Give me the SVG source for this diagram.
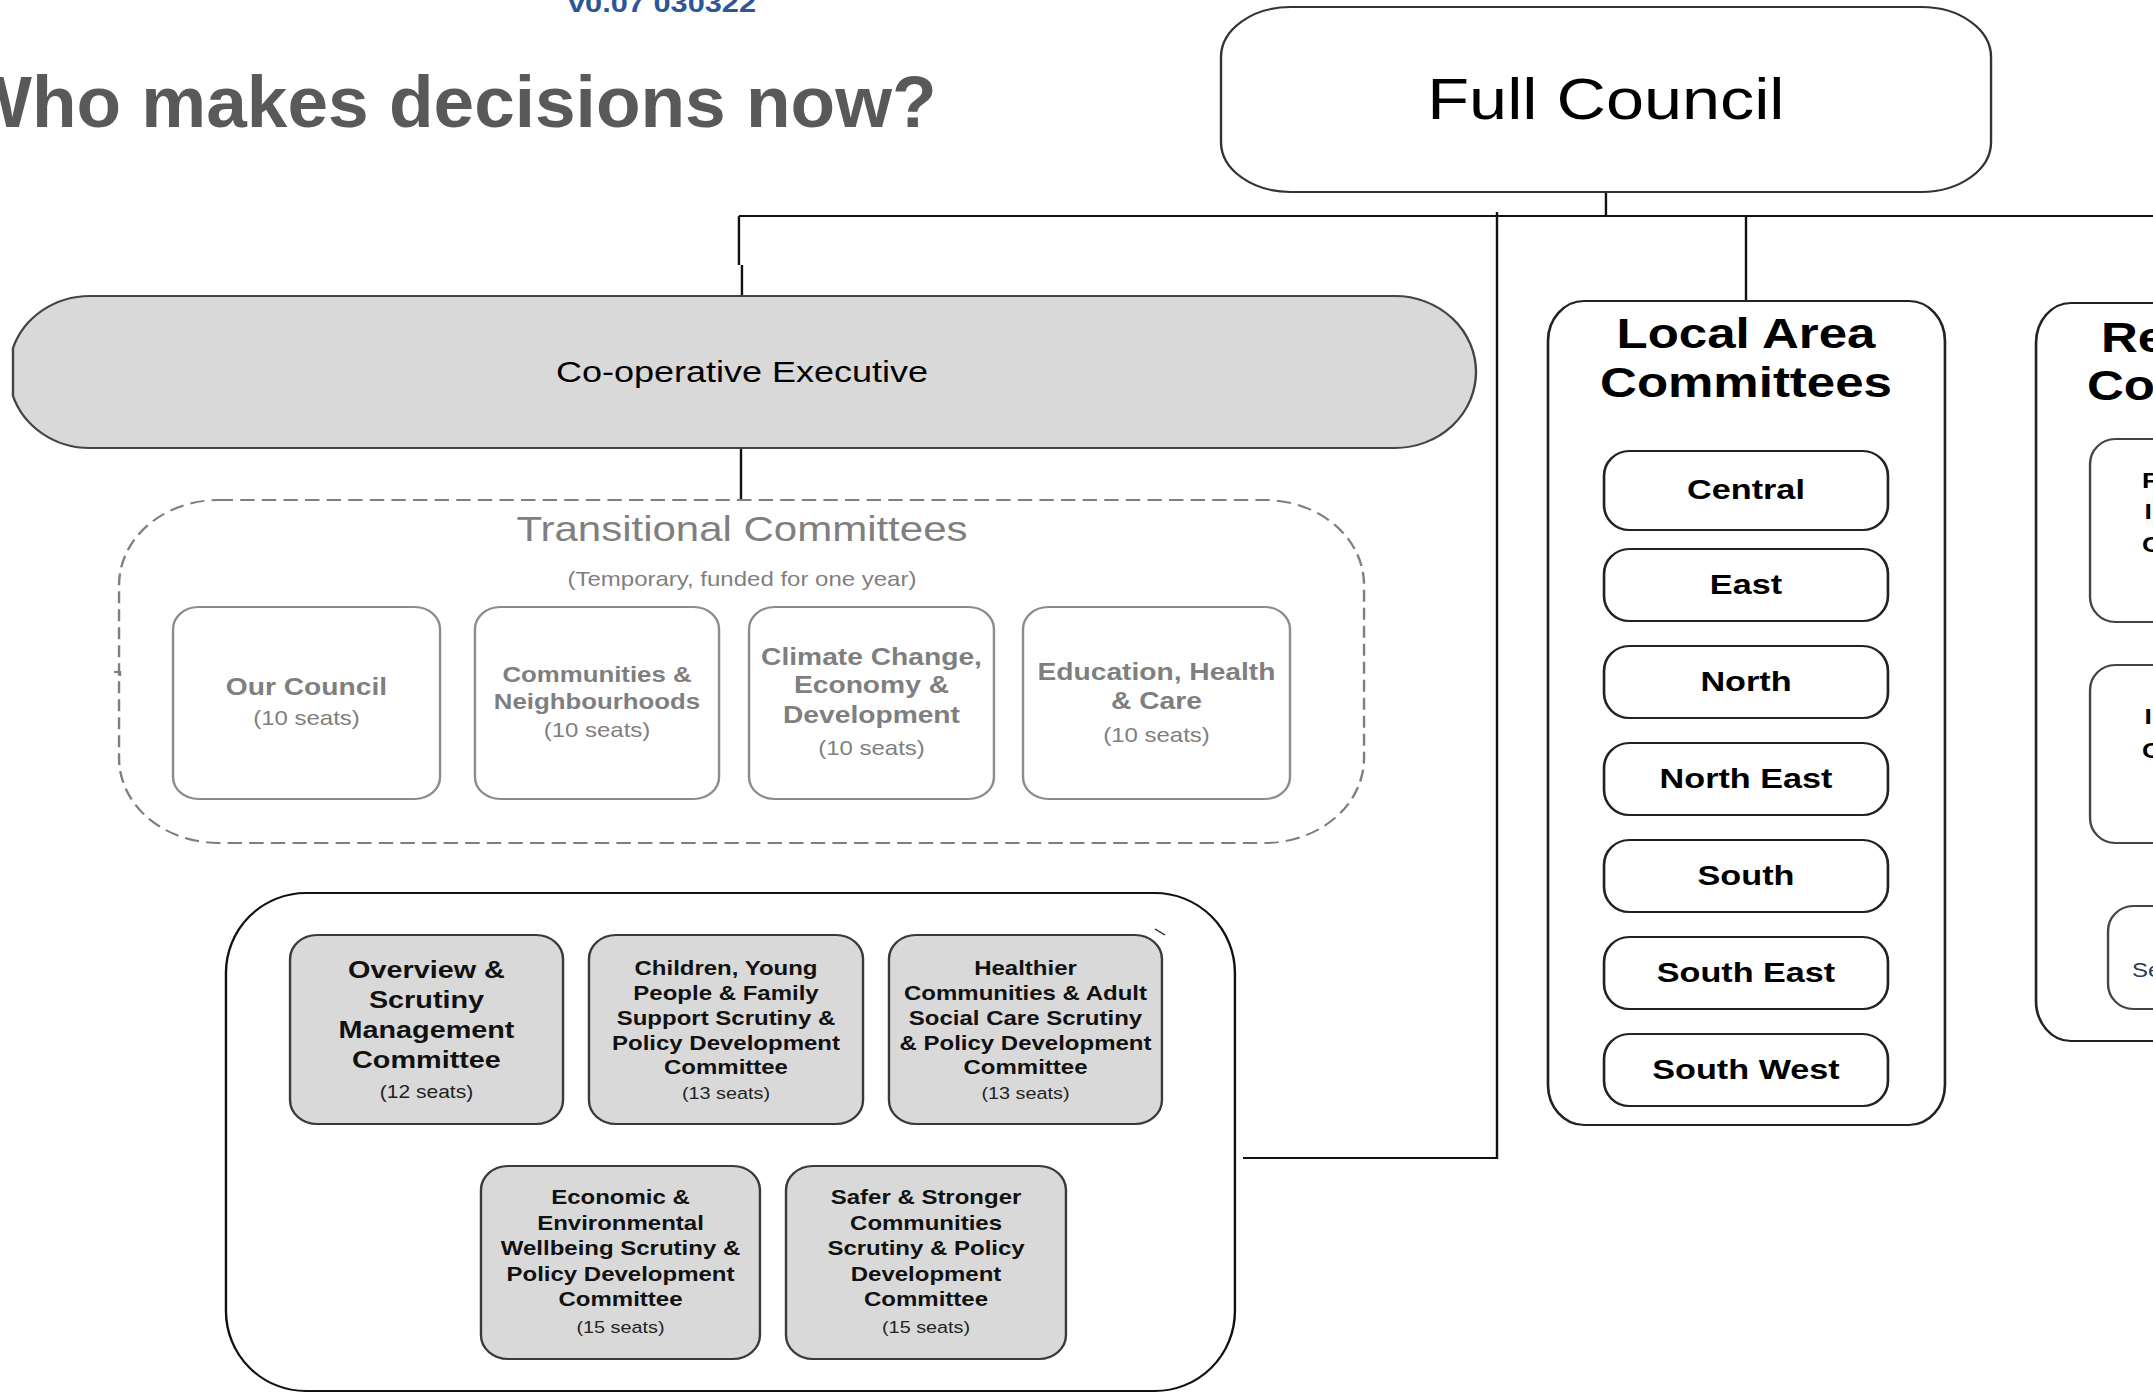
<svg xmlns="http://www.w3.org/2000/svg" width="2153" height="1393" viewBox="0 0 2153 1393">
<style>
text{font-family:"Liberation Sans",Arial,Helvetica,sans-serif;text-anchor:middle}
.b{font-weight:bold}
.conn{fill:none;stroke:#111;stroke-width:2}
.tbox{fill:#fff;stroke:#8c8c8c;stroke-width:2}
.tt{fill:#7f7f7f}
.sbox{fill:#d9d9d9;stroke:#3a3a3a;stroke-width:2}
.st{fill:#111;font-weight:bold;font-size:20px}
.ss{fill:#222;font-size:16.5px}
.lbox{fill:#fff;stroke:#222;stroke-width:2.2}
.lt{fill:#000;font-weight:bold;font-size:28.5px}
.st0{text-anchor:start}
</style>
<rect x="0" y="0" width="2153" height="1393" fill="#fff"/>
<g id="title">
<text x="-37" y="127" class="b" style="text-anchor:start;font-size:73px;fill:#595959">Who makes decisions now?</text>
<text x="568" y="12" class="b" style="text-anchor:start;font-size:26px;fill:#2e5597" textLength="188" lengthAdjust="spacingAndGlyphs">v0.07 030322</text>
</g>
<g transform="scale(1.2 1)">
<g id="connectors">
<path class="conn" d="M1338.3 192V216M615.8 216H1800M615.8 216V265M618.3 265V297M1455 216V301M617.5 448V500M1247.5 212V1158H1035.8"/>
<path d="M95 672H100V676" fill="none" stroke="#7f7f7f" stroke-width="2"/>
</g>
<g id="full-council">
<rect x="1017.5" y="7" width="641.7" height="185" rx="58" ry="50" fill="#fff" stroke="#333" stroke-width="2"/>
<text x="1338.3" y="119" style="font-size:57px;fill:#000">Full Council</text>
</g>
<g id="co-operative-executive">
<path d="M10.83 348A67.5 76 0 0 1 75 296H1162.5A67.5 76 0 0 1 1162.5 448H75A67.5 76 0 0 1 10.83 396Z" fill="#d9d9d9" stroke="#444" stroke-width="2"/>
<text x="618.3" y="382" style="font-size:30px;fill:#000">Co-operative Executive</text>
</g>
<g id="transitional-committees">
<rect x="99.2" y="500" width="1037.5" height="343" rx="83" ry="85" fill="none" stroke="#7f7f7f" stroke-width="2" stroke-dasharray="12 6"/>
<text x="618.3" y="541" class="tt" style="font-size:35px">Transitional Committees</text>
<text x="618.3" y="586" class="tt" style="font-size:20px">(Temporary, funded for one year)</text>
</g>
<g id="our-council">
<rect class="tbox" x="144.2" y="607" width="222.5" height="192" rx="21" ry="22"/>
<text x="255.4" y="695" class="tt b" style="font-size:23.5px">Our Council</text>
<text x="255.4" y="725" class="tt" style="font-size:20px">(10 seats)</text>
</g>
<g id="communities-neighbourhoods">
<rect class="tbox" x="395.8" y="607" width="203.4" height="192" rx="21" ry="22"/>
<text x="497.5" y="682" class="tt b" style="font-size:21.5px">Communities &amp;</text>
<text x="497.5" y="709" class="tt b" style="font-size:21.5px">Neighbourhoods</text>
<text x="497.5" y="737" class="tt" style="font-size:20px">(10 seats)</text>
</g>
<g id="climate-change">
<rect class="tbox" x="624.2" y="607" width="204.1" height="192" rx="21" ry="22"/>
<text x="726.25" y="665" class="tt b" style="font-size:23.5px">Climate Change,</text>
<text x="726.25" y="693" class="tt b" style="font-size:23.5px">Economy &amp;</text>
<text x="726.25" y="723" class="tt b" style="font-size:23.5px">Development</text>
<text x="726.25" y="755" class="tt" style="font-size:20px">(10 seats)</text>
</g>
<g id="education-health-care">
<rect class="tbox" x="852.5" y="607" width="222.5" height="192" rx="21" ry="22"/>
<text x="963.75" y="680" class="tt b" style="font-size:23.5px">Education, Health</text>
<text x="963.75" y="709" class="tt b" style="font-size:23.5px">&amp; Care</text>
<text x="963.75" y="742" class="tt" style="font-size:20px">(10 seats)</text>
</g>
<g id="scrutiny-group">
<rect x="188.3" y="893" width="840.8" height="498" rx="66.7" ry="80" fill="#fff" stroke="#111" stroke-width="2"/>
<path d="M962.5 929L970.8 935" stroke="#333" stroke-width="1.5"/>
</g>
<g id="overview-scrutiny">
<rect class="sbox" x="241.7" y="935" width="227.5" height="189" rx="22.5" ry="24"/>
<text x="355.4" y="978" class="st" style="font-size:24px">Overview &amp;</text>
<text x="355.4" y="1008" class="st" style="font-size:24px">Scrutiny</text>
<text x="355.4" y="1038" class="st" style="font-size:24px">Management</text>
<text x="355.4" y="1068" class="st" style="font-size:24px">Committee</text>
<text x="355.4" y="1098" class="ss" style="font-size:17.5px">(12 seats)</text>
</g>
<g id="children-young-people">
<rect class="sbox" x="490.8" y="935" width="228.4" height="189" rx="22.5" ry="24"/>
<text x="605" y="975" class="st">Children, Young</text>
<text x="605" y="1000" class="st">People &amp; Family</text>
<text x="605" y="1025" class="st">Support Scrutiny &amp;</text>
<text x="605" y="1050" class="st">Policy Development</text>
<text x="605" y="1074" class="st">Committee</text>
<text x="605" y="1099" class="ss">(13 seats)</text>
</g>
<g id="healthier-communities">
<rect class="sbox" x="740.8" y="935" width="227.5" height="189" rx="22.5" ry="24"/>
<text x="854.6" y="975" class="st">Healthier</text>
<text x="854.6" y="1000" class="st">Communities &amp; Adult</text>
<text x="854.6" y="1025" class="st">Social Care Scrutiny</text>
<text x="854.6" y="1050" class="st">&amp; Policy Development</text>
<text x="854.6" y="1074" class="st">Committee</text>
<text x="854.6" y="1099" class="ss">(13 seats)</text>
</g>
<g id="economic-environmental">
<rect class="sbox" x="400.8" y="1166" width="232.5" height="193" rx="22.5" ry="24"/>
<text x="517.1" y="1204" class="st">Economic &amp;</text>
<text x="517.1" y="1230" class="st">Environmental</text>
<text x="517.1" y="1255" class="st">Wellbeing Scrutiny &amp;</text>
<text x="517.1" y="1281" class="st">Policy Development</text>
<text x="517.1" y="1306" class="st">Committee</text>
<text x="517.1" y="1333" class="ss">(15 seats)</text>
</g>
<g id="safer-stronger">
<rect class="sbox" x="655" y="1166" width="233.3" height="193" rx="22.5" ry="24"/>
<text x="771.7" y="1204" class="st">Safer &amp; Stronger</text>
<text x="771.7" y="1230" class="st">Communities</text>
<text x="771.7" y="1255" class="st">Scrutiny &amp; Policy</text>
<text x="771.7" y="1281" class="st">Development</text>
<text x="771.7" y="1306" class="st">Committee</text>
<text x="771.7" y="1333" class="ss">(15 seats)</text>
</g>
<g id="local-area-committees">
<rect x="1290" y="301" width="330.8" height="824" rx="30" ry="40" fill="#fff" stroke="#222" stroke-width="2.2"/>
<text x="1455" y="348" class="b" style="font-size:42.5px;fill:#000">Local Area</text>
<text x="1455" y="397" class="b" style="font-size:42.5px;fill:#000">Committees</text>
</g>
<g id="central"><rect class="lbox" x="1336.7" y="451" width="236.6" height="79" rx="21" ry="25"/><text x="1455" y="499" class="lt">Central</text></g>
<g id="east"><rect class="lbox" x="1336.7" y="549" width="236.6" height="72" rx="21" ry="25"/><text x="1455" y="594" class="lt">East</text></g>
<g id="north"><rect class="lbox" x="1336.7" y="646" width="236.6" height="72" rx="21" ry="25"/><text x="1455" y="691" class="lt">North</text></g>
<g id="north-east"><rect class="lbox" x="1336.7" y="743" width="236.6" height="72" rx="21" ry="25"/><text x="1455" y="788" class="lt">North East</text></g>
<g id="south"><rect class="lbox" x="1336.7" y="840" width="236.6" height="72" rx="21" ry="25"/><text x="1455" y="885" class="lt">South</text></g>
<g id="south-east"><rect class="lbox" x="1336.7" y="937" width="236.6" height="72" rx="21" ry="25"/><text x="1455" y="982" class="lt">South East</text></g>
<g id="south-west"><rect class="lbox" x="1336.7" y="1034" width="236.6" height="72" rx="21" ry="25"/><text x="1455" y="1079" class="lt">South West</text></g>
<g id="right-committees">
<rect x="1696.7" y="303" width="200" height="738" rx="29" ry="40" fill="#fff" stroke="#222" stroke-width="2.2"/>
<text x="1750.8" y="352" class="b st0" style="font-size:42.5px;fill:#000">Re</text>
<text x="1739.2" y="400" class="b st0" style="font-size:42.5px;fill:#000">Co</text>
</g>
<g id="right-box-1">
<rect x="1741.7" y="439" width="150" height="183" rx="21" ry="25" fill="#fff" stroke="#444" stroke-width="2"/>
<text x="1785" y="488" class="b st0" style="font-size:22px;fill:#000">F</text>
<text x="1787" y="519" class="b st0" style="font-size:22px;fill:#000">I</text>
<text x="1785" y="552" class="b st0" style="font-size:22px;fill:#000">C</text>
</g>
<g id="right-box-2">
<rect x="1741.7" y="665" width="150" height="178" rx="21" ry="25" fill="#fff" stroke="#444" stroke-width="2"/>
<text x="1787" y="724" class="b st0" style="font-size:22px;fill:#000">I</text>
<text x="1785" y="758" class="b st0" style="font-size:22px;fill:#000">C</text>
</g>
<g id="right-box-3">
<rect x="1756.7" y="906" width="150" height="103" rx="21" ry="25" fill="#fff" stroke="#444" stroke-width="2"/>
<text x="1776.7" y="977" class="st0" style="font-size:20px;fill:#2a3a55">Se</text>
</g>
</g>
</svg>
